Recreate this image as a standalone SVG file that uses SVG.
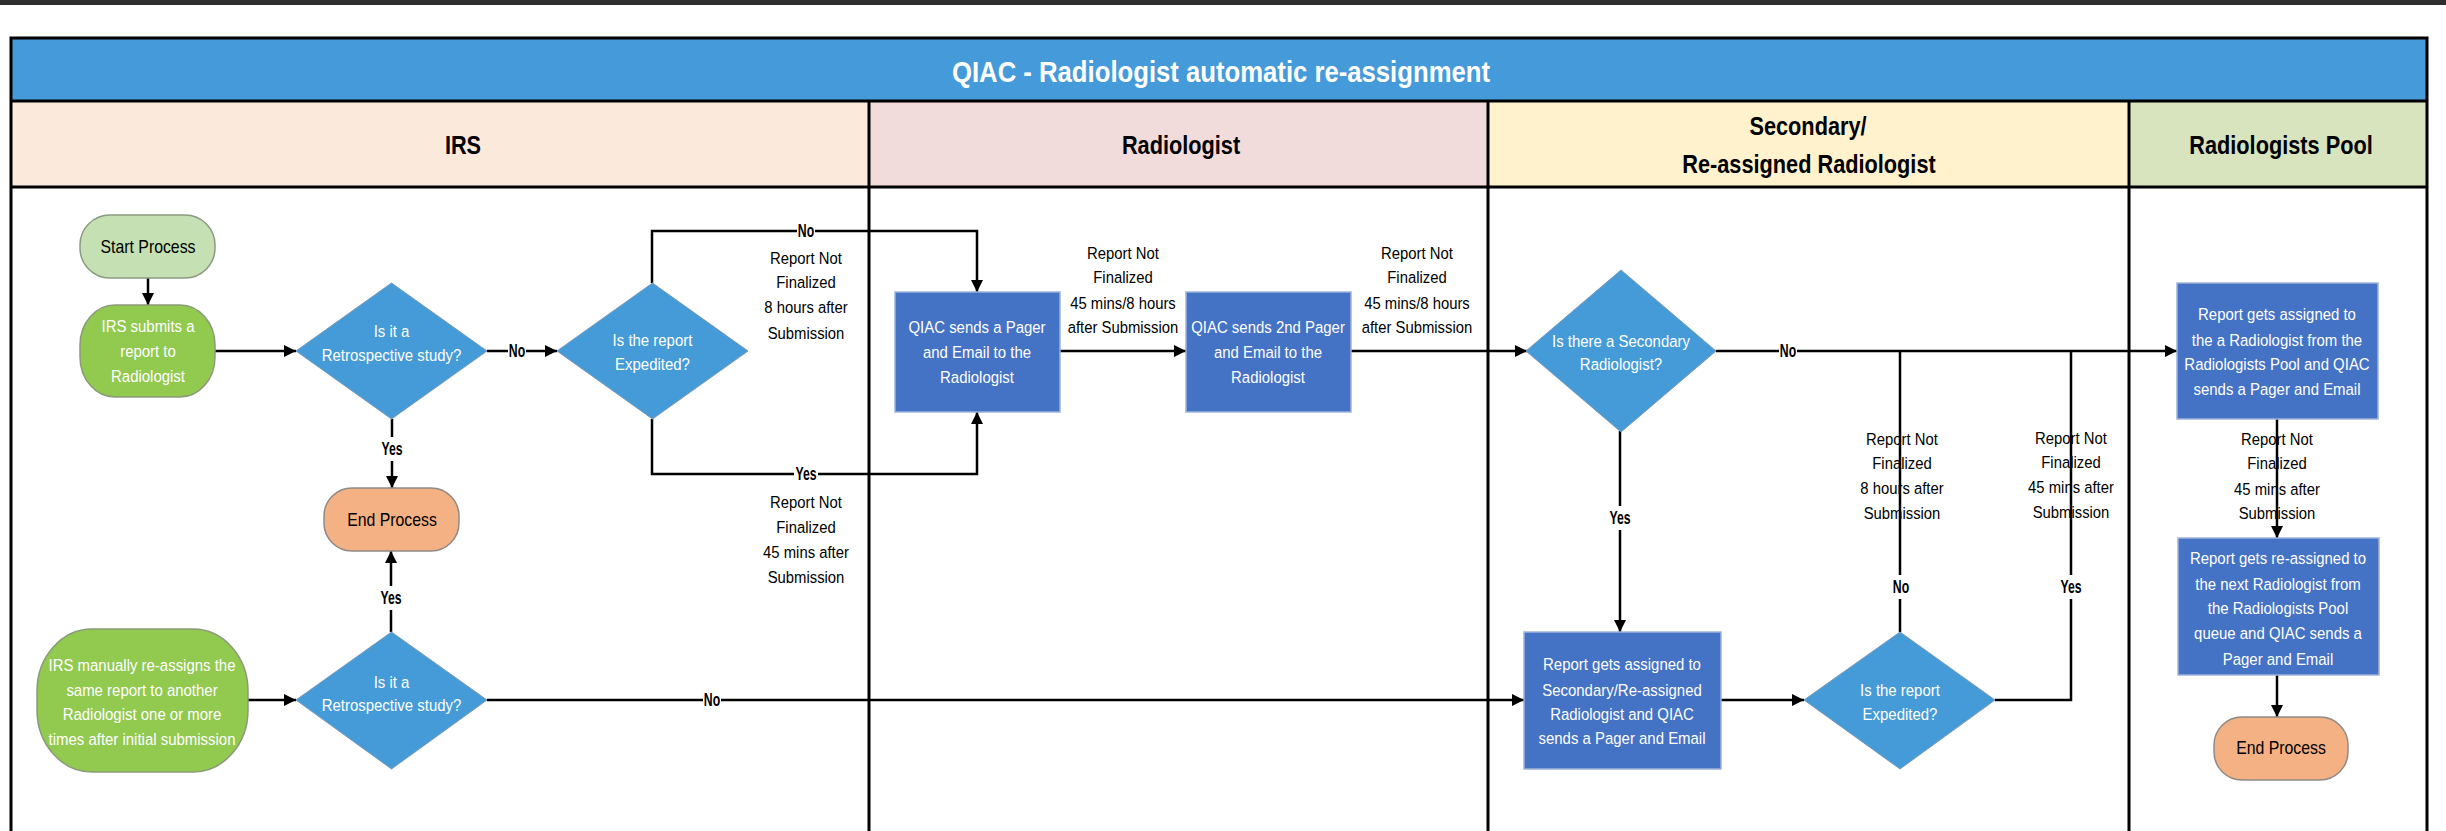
<svg xmlns="http://www.w3.org/2000/svg" width="2446" height="831" viewBox="0 0 2446 831">
  <defs>
    <marker id="arrow" viewBox="0 0 10 10" refX="10" refY="5" markerWidth="12" markerHeight="12" markerUnits="userSpaceOnUse" orient="auto">
      <path d="M0,0 L10,5 L0,10 z" fill="#000"/>
    </marker>
    <style>
      text { font-family: "Liberation Sans", Arial, sans-serif; text-anchor: middle; }
      .title { font-size: 30px; font-weight: bold; fill: #fff; }
      .lane { font-size: 26.5px; font-weight: bold; fill: #000; }
      .wt { font-size: 17px; fill: #fff; }
      .bt { font-size: 18px; fill: #000; }
      .lbl { font-size: 16.5px; fill: #000; }
      .yn { font-size: 17.5px; font-weight: bold; fill: #000; }
      .conn { fill: none; stroke: #000; stroke-width: 2.5; }
      .frame { fill: none; stroke: #000; stroke-width: 3; }
      .diamond { fill: #449bd8; stroke: #7a9ab8; stroke-width: 1; }
      .proc { fill: #4472c4; stroke: #9fb3dc; stroke-width: 1.5; }
      .green { fill: #92c94f; stroke: #8a9a7a; stroke-width: 1.5; }
      .start { fill: #c5e0b3; stroke: #8a9a80; stroke-width: 1.5; }
      .end { fill: #f4b183; stroke: #8f8a86; stroke-width: 1.5; }
      .gap { fill: #fff; }
    </style>
  </defs>

  <!-- page background and top strip -->
  <rect x="0" y="0" width="2446" height="831" fill="#fff"/>
  <rect x="0" y="0" width="2446" height="5" fill="#2e2e2e"/>

  <!-- swimlane frame; text is set in a condensed cut by squeezing it horizontally about its centre -->
  <g id="swimlanes">
    <rect x="11" y="38" width="2416" height="63" fill="#459bd9"/>
    <rect x="11" y="101" width="858" height="86" fill="#fbe9dc"/>
    <rect x="869" y="101" width="619" height="86" fill="#f2dcdb"/>
    <rect x="1488" y="101" width="641" height="86" fill="#fff2cc"/>
    <rect x="2129" y="101" width="298" height="86" fill="#d7e4bd"/>
    <path class="frame" d="M11,840 V38 H2427 V840"/>
    <line class="frame" x1="11" y1="101" x2="2427" y2="101"/>
    <line class="frame" x1="11" y1="187" x2="2427" y2="187"/>
    <line class="frame" x1="869" y1="101" x2="869" y2="840"/>
    <line class="frame" x1="1488" y1="101" x2="1488" y2="840"/>
    <line class="frame" x1="2129" y1="101" x2="2129" y2="840"/>
    <text class="title" x="1221" y="82" textLength="538" lengthAdjust="spacingAndGlyphs">QIAC - Radiologist automatic re-assignment</text>
    <text class="lane" transform="translate(463,0) scale(0.82,1)" x="0" y="154">IRS</text>
    <text class="lane" transform="translate(1181,0) scale(0.82,1)" x="0" y="154">Radiologist</text>
    <text class="lane" transform="translate(1808,0) scale(0.82,1)" x="0" y="135">Secondary/</text>
    <text class="lane" transform="translate(1809,0) scale(0.82,1)" x="0" y="173">Re-assigned Radiologist</text>
    <text class="lane" transform="translate(2281,0) scale(0.82,1)" x="0" y="154">Radiologists Pool</text>
  </g>

  <!-- connectors -->
  <g id="connectors">
    <line class="conn" x1="148" y1="278" x2="148" y2="305" marker-end="url(#arrow)"/>
    <line class="conn" x1="215" y1="351" x2="296" y2="351" marker-end="url(#arrow)"/>
    <line class="conn" x1="487" y1="351" x2="557" y2="351" marker-end="url(#arrow)"/>
    <line class="conn" x1="392" y1="419" x2="392" y2="488" marker-end="url(#arrow)"/>
    <path class="conn" d="M652,283 V231 H977 V292" marker-end="url(#arrow)"/>
    <path class="conn" d="M652,419 V474 H977 V412" marker-end="url(#arrow)"/>
    <line class="conn" x1="1060" y1="351" x2="1186" y2="351" marker-end="url(#arrow)"/>
    <line class="conn" x1="1351" y1="351" x2="1527" y2="351" marker-end="url(#arrow)"/>
    <line class="conn" x1="1716" y1="351" x2="2177" y2="351" marker-end="url(#arrow)"/>
    <line class="conn" x1="1620" y1="431" x2="1620" y2="632" marker-end="url(#arrow)"/>
    <line class="conn" x1="391" y1="632" x2="391" y2="551" marker-end="url(#arrow)"/>
    <line class="conn" x1="248" y1="700" x2="296" y2="700" marker-end="url(#arrow)"/>
    <line class="conn" x1="487" y1="700" x2="1524" y2="700" marker-end="url(#arrow)"/>
    <line class="conn" x1="1721" y1="700" x2="1804" y2="700" marker-end="url(#arrow)"/>
    <line class="conn" x1="1900" y1="632" x2="1900" y2="351"/>
    <path class="conn" d="M1995,700 H2071 V351"/>
    <line class="conn" x1="2277" y1="419" x2="2277" y2="538" marker-end="url(#arrow)"/>
    <line class="conn" x1="2277" y1="675" x2="2277" y2="717" marker-end="url(#arrow)"/>

    <!-- decision labels -->
    <rect class="gap" x="508" y="340" width="18" height="22"/>
    <text class="yn" transform="translate(517,0) scale(0.7,1)" x="0" y="357">No</text>
    <rect class="gap" x="380" y="437" width="24" height="24"/>
    <text class="yn" transform="translate(392,0) scale(0.7,1)" x="0" y="455">Yes</text>
    <rect class="gap" x="797" y="220" width="18" height="22"/>
    <text class="yn" transform="translate(806,0) scale(0.7,1)" x="0" y="237">No</text>
    <rect class="gap" x="794" y="463" width="24" height="22"/>
    <text class="yn" transform="translate(806,0) scale(0.7,1)" x="0" y="480">Yes</text>
    <rect class="gap" x="379" y="586" width="24" height="24"/>
    <text class="yn" transform="translate(391,0) scale(0.7,1)" x="0" y="604">Yes</text>
    <rect class="gap" x="703" y="689" width="18" height="22"/>
    <text class="yn" transform="translate(712,0) scale(0.7,1)" x="0" y="706">No</text>
    <rect class="gap" x="1779" y="340" width="18" height="22"/>
    <text class="yn" transform="translate(1788,0) scale(0.7,1)" x="0" y="357">No</text>
    <rect class="gap" x="1608" y="506" width="24" height="24"/>
    <text class="yn" transform="translate(1620,0) scale(0.7,1)" x="0" y="524">Yes</text>
    <rect class="gap" x="1891" y="575" width="20" height="24"/>
    <text class="yn" transform="translate(1901,0) scale(0.7,1)" x="0" y="593">No</text>
    <rect class="gap" x="2059" y="575" width="24" height="24"/>
    <text class="yn" transform="translate(2071,0) scale(0.7,1)" x="0" y="593">Yes</text>

    <!-- timing labels -->
    <text class="lbl" transform="translate(806,0) scale(0.9,1)"><tspan x="0" y="264">Report Not</tspan><tspan x="0" y="288">Finalized</tspan><tspan x="0" y="313">8 hours after</tspan><tspan x="0" y="339">Submission</tspan></text>
    <text class="lbl" transform="translate(806,0) scale(0.9,1)"><tspan x="0" y="508">Report Not</tspan><tspan x="0" y="533">Finalized</tspan><tspan x="0" y="558">45 mins after</tspan><tspan x="0" y="583">Submission</tspan></text>
    <text class="lbl" transform="translate(1123,0) scale(0.9,1)"><tspan x="0" y="259">Report Not</tspan><tspan x="0" y="283">Finalized</tspan><tspan x="0" y="309">45 mins/8 hours</tspan><tspan x="0" y="333">after Submission</tspan></text>
    <text class="lbl" transform="translate(1417,0) scale(0.9,1)"><tspan x="0" y="259">Report Not</tspan><tspan x="0" y="283">Finalized</tspan><tspan x="0" y="309">45 mins/8 hours</tspan><tspan x="0" y="333">after Submission</tspan></text>
    <text class="lbl" transform="translate(1902,0) scale(0.9,1)"><tspan x="0" y="445">Report Not</tspan><tspan x="0" y="469">Finalized</tspan><tspan x="0" y="494">8 hours after</tspan><tspan x="0" y="519">Submission</tspan></text>
    <text class="lbl" transform="translate(2071,0) scale(0.9,1)"><tspan x="0" y="444">Report Not</tspan><tspan x="0" y="468">Finalized</tspan><tspan x="0" y="493">45 mins after</tspan><tspan x="0" y="518">Submission</tspan></text>
    <text class="lbl" transform="translate(2277,0) scale(0.9,1)"><tspan x="0" y="445">Report Not</tspan><tspan x="0" y="469">Finalized</tspan><tspan x="0" y="495">45 mins after</tspan><tspan x="0" y="519">Submission</tspan></text>
  </g>

  <!-- IRS lane -->
  <g id="start">
    <rect class="start" x="80" y="215" width="135" height="63" rx="30" ry="30"/>
    <text class="bt" transform="translate(148,0) scale(0.88,1)" x="0" y="253">Start Process</text>
  </g>
  <g id="irs-submits">
    <rect class="green" x="80" y="305" width="135" height="92" rx="35" ry="40"/>
    <text class="wt" transform="translate(148,0) scale(0.88,1)"><tspan x="0" y="332">IRS submits a</tspan><tspan x="0" y="357">report to</tspan><tspan x="0" y="382">Radiologist</tspan></text>
  </g>
  <g id="retro-check-1">
    <polygon class="diamond" points="391.5,283 487,351 391.5,419 296,351"/>
    <text class="wt" transform="translate(391.5,0) scale(0.88,1)"><tspan x="0" y="337">Is it a</tspan><tspan x="0" y="361">Retrospective study?</tspan></text>
  </g>
  <g id="expedited-check-1">
    <polygon class="diamond" points="652.5,283 748,351 652.5,419 557,351"/>
    <text class="wt" transform="translate(652.5,0) scale(0.88,1)"><tspan x="0" y="346">Is the report</tspan><tspan x="0" y="370">Expedited?</tspan></text>
  </g>
  <g id="end-irs">
    <rect class="end" x="324" y="488" width="135" height="63" rx="28" ry="28"/>
    <text class="bt" transform="translate(392,0) scale(0.88,1)" x="0" y="526">End Process</text>
  </g>
  <g id="irs-manual">
    <rect class="green" x="37" y="629" width="211" height="143" rx="55" ry="62"/>
    <text class="wt" transform="translate(142,0) scale(0.88,1)"><tspan x="0" y="671">IRS manually re-assigns the</tspan><tspan x="0" y="696">same report to another</tspan><tspan x="0" y="720">Radiologist one or more</tspan><tspan x="0" y="745">times after initial submission</tspan></text>
  </g>
  <g id="retro-check-2">
    <polygon class="diamond" points="391.5,632 487,700 391.5,769 296,700"/>
    <text class="wt" transform="translate(391.5,0) scale(0.88,1)"><tspan x="0" y="688">Is it a</tspan><tspan x="0" y="711">Retrospective study?</tspan></text>
  </g>

  <!-- Radiologist lane -->
  <g id="first-page">
    <rect class="proc" x="895" y="292" width="165" height="120"/>
    <text class="wt" transform="translate(977,0) scale(0.88,1)"><tspan x="0" y="333">QIAC sends a Pager</tspan><tspan x="0" y="358">and Email to the</tspan><tspan x="0" y="383">Radiologist</tspan></text>
  </g>
  <g id="second-page">
    <rect class="proc" x="1186" y="292" width="165" height="120"/>
    <text class="wt" transform="translate(1268,0) scale(0.88,1)"><tspan x="0" y="333">QIAC sends 2nd Pager</tspan><tspan x="0" y="358">and Email to the</tspan><tspan x="0" y="383">Radiologist</tspan></text>
  </g>

  <!-- Secondary / re-assigned lane -->
  <g id="secondary-check">
    <polygon class="diamond" points="1621,270 1716,351 1621,432 1526,351"/>
    <text class="wt" transform="translate(1621,0) scale(0.88,1)"><tspan x="0" y="347">Is there a Secondary</tspan><tspan x="0" y="370">Radiologist?</tspan></text>
  </g>
  <g id="secondary-assign">
    <rect class="proc" x="1524" y="632" width="197" height="137"/>
    <text class="wt" transform="translate(1622,0) scale(0.88,1)"><tspan x="0" y="670">Report gets assigned to</tspan><tspan x="0" y="696">Secondary/Re-assigned</tspan><tspan x="0" y="720">Radiologist and QIAC</tspan><tspan x="0" y="744">sends a Pager and Email</tspan></text>
  </g>
  <g id="expedited-check-2">
    <polygon class="diamond" points="1900,632 1995,700 1900,769 1804,700"/>
    <text class="wt" transform="translate(1900,0) scale(0.88,1)"><tspan x="0" y="696">Is the report</tspan><tspan x="0" y="720">Expedited?</tspan></text>
  </g>

  <!-- Radiologists pool lane -->
  <g id="pool-assign">
    <rect class="proc" x="2177" y="283" width="201" height="136"/>
    <text class="wt" transform="translate(2277,0) scale(0.88,1)"><tspan x="0" y="320">Report gets assigned to</tspan><tspan x="0" y="346">the a Radiologist from the</tspan><tspan x="0" y="370">Radiologists Pool and QIAC</tspan><tspan x="0" y="395">sends a Pager and Email</tspan></text>
  </g>
  <g id="pool-reassign">
    <rect class="proc" x="2178" y="538" width="201" height="137"/>
    <text class="wt" transform="translate(2278,0) scale(0.88,1)"><tspan x="0" y="564">Report gets re-assigned to</tspan><tspan x="0" y="590">the next Radiologist from</tspan><tspan x="0" y="614">the Radiologists Pool</tspan><tspan x="0" y="639">queue and QIAC sends a</tspan><tspan x="0" y="665">Pager and Email</tspan></text>
  </g>
  <g id="end-pool">
    <rect class="end" x="2214" y="717" width="134" height="63" rx="28" ry="28"/>
    <text class="bt" transform="translate(2281,0) scale(0.88,1)" x="0" y="754">End Process</text>
  </g>
</svg>
